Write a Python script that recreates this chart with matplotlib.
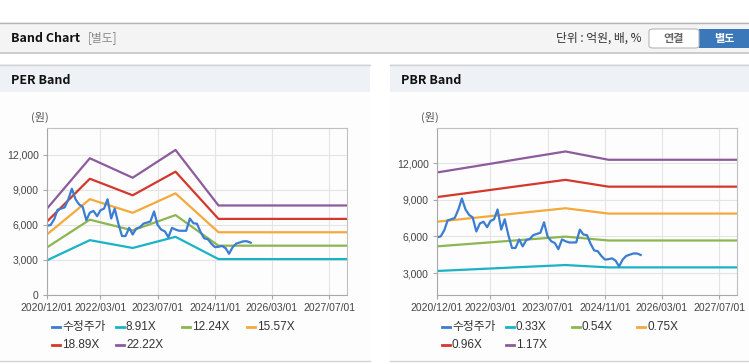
import numpy as np
import matplotlib
matplotlib.use("Agg")
import matplotlib.pyplot as plt
import matplotlib.dates as mdates
from matplotlib.patches import Rectangle, FancyBboxPatch
from matplotlib.lines import Line2D

plt.rcParams['font.family'] = ['Noto Sans CJK KR', 'DejaVu Sans']
NUMFONT = ['Liberation Sans', 'Noto Sans CJK KR', 'DejaVu Sans']

# 수정주가 (monthly, 2020/12 ~ 2025/09)
price_dates = np.arange(np.datetime64('2020-12'), np.datetime64('2025-10'), dtype='datetime64[M]').astype('datetime64[D]')
price = [5930, 5990, 6500, 7300, 7400, 7500, 8200, 9100, 8200, 7750, 7550, 6400,
         7050, 7200, 6750, 7250, 7400, 8200, 6550, 7400, 6100, 5050, 5050, 5750,
         5180, 5700, 5800, 6100, 6200, 6300, 7150, 6000, 5600, 5450, 4950, 5750,
         5600, 5500, 5500, 5500, 6550, 6150, 6100, 5400, 4850, 4780, 4400, 4100,
         4130, 4200, 4000, 3530, 4100, 4400, 4500, 4600, 4600, 4480]

band_dates = np.array(['2020-12-01', '2021-12-01', '2022-12-01', '2023-12-01',
                       '2024-12-01', '2027-12-01'], dtype='datetime64[D]')

per_labels = ['8.91X', '12.24X', '15.57X', '18.89X', '22.22X']
per_bands = [
    [2967, 4696, 4027, 4981, 3074, 3074],
    [4076, 6450, 5532, 6842, 4223, 4223],
    [5185, 8205, 7038, 8704, 5372, 5372],
    [6290, 9955, 8538, 10560, 6517, 6517],
    [7400, 11710, 10043, 12421, 7666, 7666],
]

pbr_labels = ['0.33X', '0.54X', '0.75X', '0.96X', '1.17X']
pbr_bands = [
    [3167, 3328, 3492, 3652, 3461, 3461],
    [5183, 5446, 5714, 5977, 5663, 5663],
    [7199, 7564, 7936, 8301, 7865, 7865],
    [9214, 9682, 10158, 10626, 10068, 10068],
    [11230, 11800, 12380, 12950, 12270, 12270],
]

x_ticks = ['2020-12-01', '2022-03-01', '2023-07-01', '2024-11-01', '2026-03-01', '2027-07-01']
y_ticks = [0, 3000, 6000, 9000, 12000]

price_color = '#3a7dd2'
band_colors = ['#1ab3c6', '#8db650', '#f4a93c', '#d4382c', '#8d5b9d']

W, H = 749, 364
fig = plt.figure(figsize=(W / 100, H / 100), dpi=100)
fig.patch.set_facecolor('white')


def px(x, y):
    return x / W, 1 - y / H


def rect(x0, y0, x1, y1, **kw):
    fig.patches.append(Rectangle((x0 / W, 1 - y1 / H), (x1 - x0) / W, (y1 - y0) / H,
                                 transform=fig.transFigure, zorder=-10, **kw))


def hline(x0, x1, y, color, lw=1):
    fig.add_artist(Line2D([x0 / W, x1 / W], [1 - y / H, 1 - y / H], color=color, lw=lw,
                          transform=fig.transFigure, zorder=-5))


# top bar
rect(0, 22, W, 53, facecolor='#f4f4f4', edgecolor='none')
hline(0, W, 22.5, '#b4b4b4')
hline(0, W, 53, '#c4c4c4', lw=1.2)
fig.text(*px(11, 38), 'Band Chart', fontsize=9, fontweight='bold', va='center', color='#111111')
fig.text(*px(88, 38), '[별도]', fontsize=8.5, va='center', color='#8a8a8a')
fig.text(*px(641, 38), '단위 : 억원, 배, %', fontsize=8.5, va='center', ha='right', color='#333333')
fig.patches.append(FancyBboxPatch((649 / W, 1 - 48 / H), 50 / W, 19 / H,
                                  boxstyle='round,pad=0,rounding_size=0.006',
                                  transform=fig.transFigure, facecolor='white', edgecolor='#b8b8b8', lw=0.8))
rect(699, 29, W, 48, facecolor='#3a78b9', edgecolor='none')
fig.text(*px(674, 38.5), '연결', fontsize=8, fontweight='bold', va='center', ha='center', color='#666666')
fig.text(*px(724, 38.5), '별도', fontsize=8, fontweight='bold', va='center', ha='center', color='white')

# panels
for x0, x1, title in [(0, 370, 'PER Band'), (390, W, 'PBR Band')]:
    rect(x0, 64, x1, 361, facecolor='#fdfdfd', edgecolor='none')
    rect(x0, 64, x1, 92, facecolor='#eef2f7', edgecolor='none')
    hline(x0, x1, 64.5, '#d2d2d2')
    hline(x0, x1, 361, '#d2d2d2')
    fig.text(*px(x0 + 11, 80), title, fontsize=9, fontweight='bold', va='center', color='#111111')


def draw_panel(left, ylim, bands, labels):
    ax = fig.add_axes([left / W, 1 - 295 / H, 300 / W, (295 - 128) / H])
    ax.set_facecolor('#fdfdfd')
    for vals, c in zip(bands, band_colors):
        ax.plot(band_dates, vals, color=c, lw=1.6, solid_capstyle='butt')
    ax.plot(price_dates, price, color=price_color, lw=1.6)
    ax.set_xlim(np.datetime64('2020-12-01'), np.datetime64('2027-12-01'))
    ax.set_ylim(*ylim)
    ax.set_xticks(np.array(x_ticks, dtype='datetime64[D]'))
    ax.xaxis.set_major_formatter(mdates.DateFormatter('%Y/%m/%d'))
    yt = [v for v in y_ticks if v >= ylim[0]]
    ax.set_yticks(yt)
    ax.set_yticklabels([f'{v:,}' for v in yt])
    ax.grid(True, color='#e4e4e4', lw=0.8)
    ax.set_axisbelow(True)
    for s in ax.spines.values():
        s.set_color('#c0c0c0')
        s.set_linewidth(0.8)
    ax.spines['left'].set_color('#a8a8a8')
    ax.spines['bottom'].set_color('#a8a8a8')
    ax.tick_params(axis='both', labelsize=7.5, colors='#a8a8a8', labelcolor='#444444', length=3, width=0.8)
    ax.tick_params(axis='y', pad=3)
    ax.tick_params(axis='x', pad=3)
    for t in ax.get_xticklabels() + ax.get_yticklabels():
        t.set_family(NUMFONT)
    fig.text((left - 16) / W, 1 - 117 / H, '(원)', fontsize=8, color='#555555', va='center')

    # legend
    entries = [('수정주가', price_color)] + list(zip(labels, band_colors))
    cols = [left + 5, left + 69, left + 135, left + 200]
    for i, (lab, c) in enumerate(entries):
        r, k = divmod(i, 4)
        lx = cols[k]
        ly = 327 + r * 18
        fig.add_artist(Line2D([lx / W, (lx + 8) / W], [1 - ly / H, 1 - ly / H], color=c, lw=2,
                              transform=fig.transFigure))
        fig.text((lx + 10) / W, 1 - ly / H, lab, fontsize=8.5, va='center', color='#333333',
                 family=NUMFONT)
    return ax


draw_panel(47, (0, 14300), per_bands, per_labels)
draw_panel(437, (1200, 14870), pbr_bands, pbr_labels)

fig.savefig('out.png', dpi=100, facecolor='white')
